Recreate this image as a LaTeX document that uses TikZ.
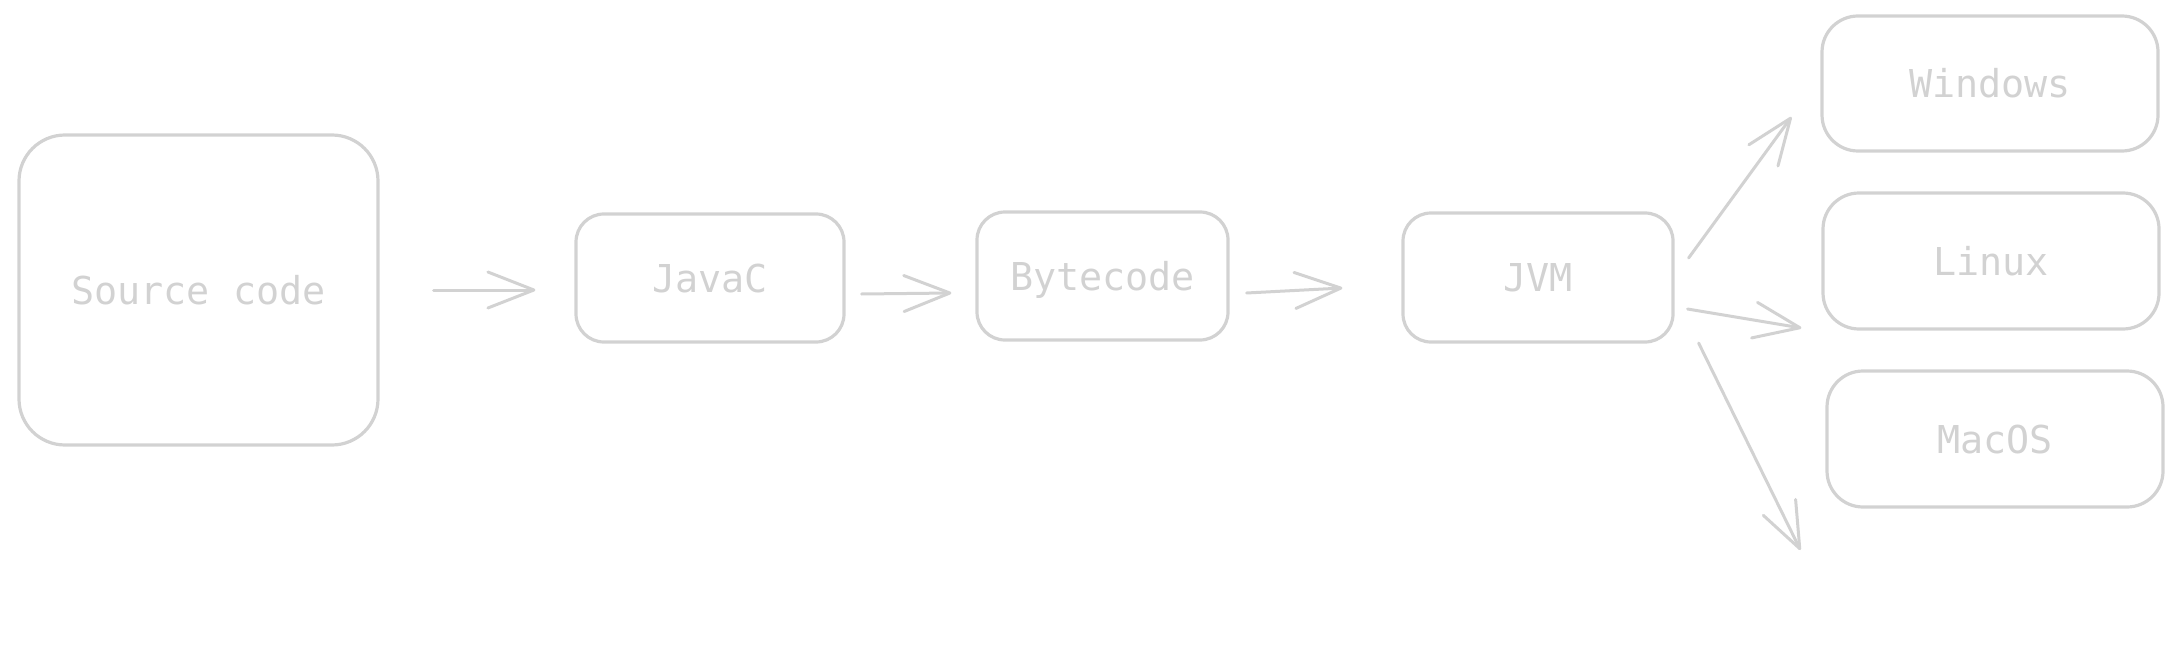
\documentclass[tikz,border=0pt]{standalone}
\usepackage{fontspec}
\setmonofont{DejaVu Sans Mono}
\usepackage{tikz}
\usetikzlibrary{positioning,arrows.meta}
\definecolor{sketch}{RGB}{210,210,210}

\begin{document}
\begin{tikzpicture}[x=1pt, y=-1pt, >={Straight Barb[length=46pt,width=36pt,round]},
  box/.style={draw=sketch, line width=3.2pt, rounded corners=28pt, inner sep=0pt,
    text=sketch, text height=28pt, text depth=0pt,
    font=\fontsize{38.4}{44}\selectfont\ttfamily},
  arr/.style={->, draw=sketch, line width=3pt, line cap=round}]
\useasboundingbox (0,0) rectangle (2182,658);

% compile chain (left)
\node[box, minimum width=359pt, minimum height=310pt, rounded corners=46pt] (src) at (198.5,290) {Source code};
\node[box, minimum width=268pt, minimum height=128pt] (javac) at (710,278) {JavaC};
\node[box, minimum width=251pt, minimum height=128pt] (bytecode) at (1102.5,276) {Bytecode};
\node[box, minimum width=270pt, minimum height=129pt] (jvm) at (1538,277.5) {JVM};

% platforms (right)
\node[box, minimum width=336pt, minimum height=135pt, rounded corners=36pt] (windows) at (1990,83.5) {Windows};
\node[box, minimum width=336pt, minimum height=136pt, rounded corners=36pt] (linux) at (1991,261) {Linux};
\node[box, minimum width=336pt, minimum height=136pt, rounded corners=36pt] (macos) at (1995,439) {MacOS};

% chain arrows
\draw[arr] ([shift={(54,0)}]src.east) -- ([shift={(-39,12)}]javac.west);
\draw[arr] ([shift={(16,16)}]javac.east) -- ([shift={(-24,17)}]bytecode.west);
\draw[arr] ([shift={(17,17)}]bytecode.east) -- ([shift={(-59,10.5)}]jvm.west);

% jvm runs on each platform
\draw[arr] ([shift={(14,-19.5)}]jvm.east) -- ([shift={(-29,33.5)}]windows.west);
\draw[arr] ([shift={(13,31.5)}]jvm.east) -- ([shift={(-20,67)}]linux.west);
\draw[arr] ([shift={(24,65.5)}]jvm.east) -- ([shift={(-25,111)}]macos.west);
\end{tikzpicture}
\end{document}
